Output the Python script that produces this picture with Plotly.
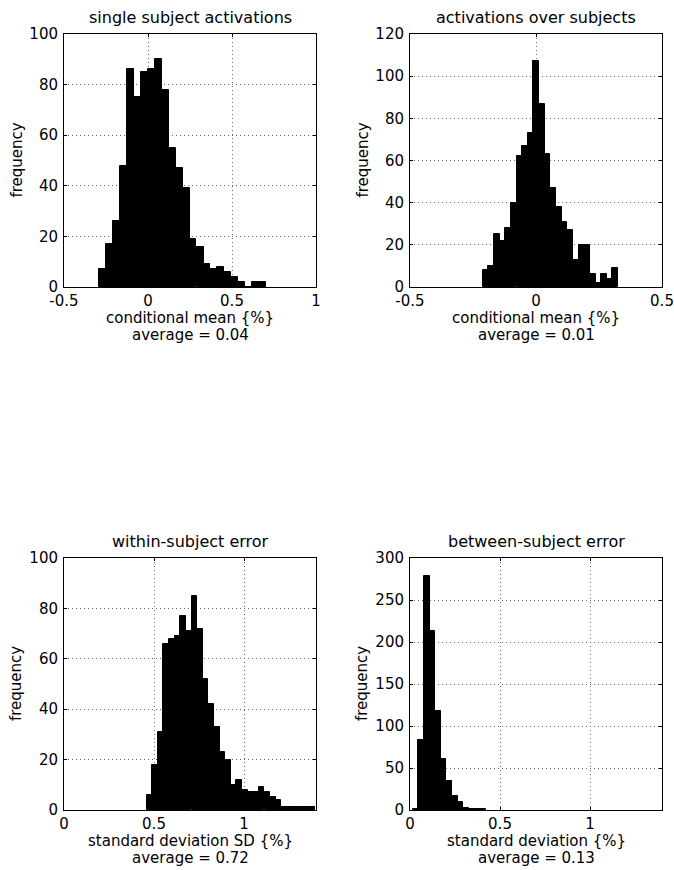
import plotly.graph_objects as go

# ---------------- data ----------------
# Panel 1: single subject activations
p1_centers = [-0.269, -0.228, -0.186, -0.145, -0.104, -0.062, -0.021, 0.020,
              0.062, 0.103, 0.144, 0.186, 0.227, 0.268, 0.310, 0.351,
              0.392, 0.434, 0.475, 0.516, 0.557, 0.599, 0.640, 0.681]
p1_counts = [7, 17, 26, 48, 86, 75, 85, 86, 90, 78, 55, 47, 39, 19, 16, 9,
             7, 8, 6, 4, 2, 0, 2, 2]
p1_binwidth = 0.0413

# Panel 2: activations over subjects
p2_centers = [-0.201, -0.178, -0.156, -0.134, -0.111, -0.089, -0.066, -0.044,
              -0.022, 0.001, 0.023, 0.046, 0.068, 0.090, 0.113, 0.135,
              0.158, 0.180, 0.202, 0.225, 0.247, 0.270, 0.292, 0.314]
p2_counts = [8, 10, 25, 22, 28, 40, 62, 67, 73, 107, 87, 63, 47, 38, 31, 27,
             13, 20, 20, 6, 2, 6, 4, 9]
p2_binwidth = 0.0224

# Panel 3: within-subject error
p3_centers = [0.474, 0.505, 0.536, 0.568, 0.599, 0.630, 0.661, 0.692, 0.724,
              0.755, 0.786, 0.817, 0.849, 0.880, 0.911, 0.942, 0.973, 1.005,
              1.036, 1.067, 1.098, 1.130, 1.161, 1.192, 1.223, 1.255, 1.286,
              1.317, 1.348, 1.379]
p3_counts = [6, 18, 31, 66, 68, 69, 77, 71, 85, 72, 52, 42, 33, 23, 20, 10,
             12, 8, 7, 7, 9, 7, 5, 4, 1, 1, 1, 1, 1, 1]
p3_binwidth = 0.0312

# Panel 4: between-subject error
p4_centers = [0.030, 0.062, 0.093, 0.124, 0.155, 0.187, 0.218, 0.249, 0.280,
              0.312, 0.343, 0.374, 0.405]
p4_counts = [1, 83, 278, 213, 118, 61, 35, 17, 9, 2, 1, 1, 1]
p4_binwidth = 0.0313

titles = ["single subject activations", "activations over subjects",
          "within-subject error", "between-subject error"]
xlabels = ["conditional mean {%}", "conditional mean {%}",
           "standard deviation SD {%}", "standard deviation {%}"]
averages = ["average = 0.04", "average = 0.01", "average = 0.72", "average = 0.13"]

x_ticks = [[-0.5, 0, 0.5, 1], [-0.5, 0, 0.5], [0, 0.5, 1], [0, 0.5, 1]]
x_ticktext = [["-0.5", "0", "0.5", "1"], ["-0.5", "0", "0.5"],
              ["0", "0.5", "1"], ["0", "0.5", "1"]]
x_ranges = [[-0.5, 1.0], [-0.5, 0.5], [0, 1.4], [0, 1.4]]
y_ranges = [[0, 100], [0, 120], [0, 100], [0, 300]]
y_dticks = [20, 20, 20, 50]

# ---------------- layout geometry ----------------
W, H = 674, 870    # figure size (page margin removed below)
FONT = "DejaVu Sans"
panels_px = [  # (left, right, top, bottom) in window pixels
    (64, 316, 34, 287),
    (410, 662, 34, 287),
    (64, 316, 558, 810),
    (410, 662, 558, 810),
]

fig = go.Figure()
series = [(p1_centers, p1_counts, p1_binwidth),
          (p2_centers, p2_counts, p2_binwidth),
          (p3_centers, p3_counts, p3_binwidth),
          (p4_centers, p4_counts, p4_binwidth)]

for i, (cx, cy, bw) in enumerate(series):
    n = i + 1
    xa = "x" if n == 1 else f"x{n}"
    ya = "y" if n == 1 else f"y{n}"
    fig.add_trace(go.Bar(x=cx, y=cy, width=bw, xaxis=xa, yaxis=ya,
                         marker=dict(color="black",
                                     line=dict(color="black", width=1)),
                         showlegend=False, hoverinfo="x+y"))

    l, r, t, b = panels_px[i]
    hgt = b - t
    xdom = [l / W, r / W]
    ydom = [1 - b / H, 1 - t / H]
    axis_common = dict(showline=True, linecolor="black", linewidth=1,
                       mirror="ticks", ticks="inside", ticklen=3,
                       tickcolor="black", showgrid=True, gridcolor="#666",
                       griddash="1px,3px", gridwidth=1, zeroline=False,
                       automargin=False, ticklabeloverflow="allow",
                       tickfont=dict(family=FONT, size=15, color="black"))
    fig.layout[f"xaxis{'' if n == 1 else n}"] = dict(
        domain=xdom, anchor=ya, range=x_ranges[i],
        tickvals=x_ticks[i], ticktext=x_ticktext[i],
        **axis_common)
    fig.layout[f"yaxis{'' if n == 1 else n}"] = dict(
        domain=ydom, anchor=xa, range=y_ranges[i], dtick=y_dticks[i],
        tick0=0, ticklabelstandoff=2,
        **axis_common)

    # panel title
    fig.add_annotation(text=titles[i], xref=f"{xa} domain", yref=f"{ya} domain",
                       x=0.5, y=1 + 17 / hgt, xanchor="center",
                       yanchor="middle", showarrow=False,
                       font=dict(family=FONT, size=16, color="black"))
    # y-axis title
    fig.add_annotation(text="frequency", xref=f"{xa} domain", yref=f"{ya} domain",
                       x=-48 / (r - l), y=0.5, xanchor="center",
                       yanchor="middle", textangle=-90, showarrow=False,
                       font=dict(family=FONT, size=15, color="black"))
    # x-axis title
    fig.add_annotation(text=xlabels[i], xref=f"{xa} domain", yref=f"{ya} domain",
                       x=0.5, y=-31 / hgt, xanchor="center",
                       yanchor="middle", showarrow=False,
                       font=dict(family=FONT, size=15, color="black"))
    # average line under the x-axis title
    fig.add_annotation(text=averages[i], xref=f"{xa} domain", yref=f"{ya} domain",
                       x=0.5, y=-48 / hgt, xanchor="center",
                       yanchor="middle", showarrow=False,
                       font=dict(family=FONT, size=15, color="black"))

fig.update_layout(width=W, height=H, margin=dict(l=0, r=0, t=0, b=0),
                  paper_bgcolor="white", plot_bgcolor="white", bargap=0,
                  font=dict(family=FONT, size=15, color="black"))

fig.write_html(
    "out.html",
    config={"displayModeBar": False},
    post_script="document.body.style.margin='0';"
                "document.body.style.overflow='hidden';",
)
